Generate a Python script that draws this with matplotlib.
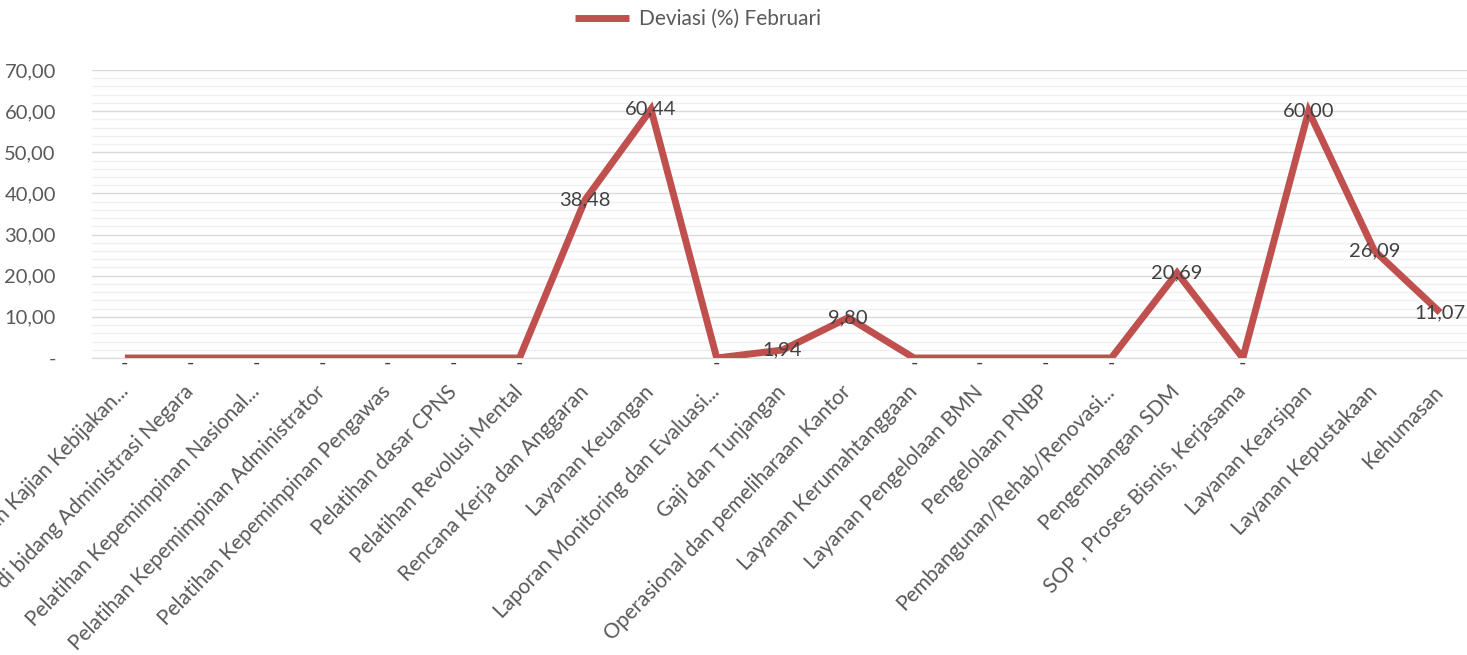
import numpy as np
import matplotlib
matplotlib.use("Agg")
import matplotlib.pyplot as plt
from matplotlib.ticker import MultipleLocator, FuncFormatter

plt.rcParams['font.family'] = ['Lato', 'DejaVu Sans']

kategori = [
    "Penelitian dan Kajian Kebijakan...",
    "Pelatihan di bidang Administrasi Negara",
    "Pelatihan Kepemimpinan Nasional...",
    "Pelatihan Kepemimpinan Administrator",
    "Pelatihan Kepemimpinan Pengawas",
    "Pelatihan dasar CPNS",
    "Pelatihan Revolusi Mental",
    "Rencana Kerja dan Anggaran",
    "Layanan Keuangan",
    "Laporan Monitoring dan Evaluasi...",
    "Gaji dan Tunjangan",
    "Operasional dan pemeliharaan Kantor",
    "Layanan Kerumahtanggaan",
    "Layanan Pengelolaan BMN",
    "Pengelolaan PNBP",
    "Pembangunan/Rehab/Renovasi...",
    "Pengembangan SDM",
    "SOP , Proses Bisnis, Kerjasama",
    "Layanan Kearsipan",
    "Layanan Kepustakaan",
    "Kehumasan",
]
deviasi_februari = [0, 0, 0, 0, 0, 0, 0, 38.48, 60.44, 0, 1.94, 9.80,
                    0, 0, 0, 0, 20.69, 0, 60.00, 26.09, 11.07]

warna_garis = "#C0504D"
warna_teks = "#595959"


def format_angka(v):
    # format akuntansi: nol jadi "-"
    if v == 0:
        return "-"
    return f"{v:.2f}".replace(".", ",")


fig = plt.figure(figsize=(14.67, 6.55), dpi=100)
ax = fig.add_axes([92 / 1467, 297 / 655, 1381 / 1467, 288 / 655])

x = np.arange(len(kategori))
garis, = ax.plot(x, deviasi_februari, color=warna_garis, lw=5,
                 solid_joinstyle="miter", solid_capstyle="butt",
                 label="Deviasi (%) Februari", zorder=3)

# label data di tengah titik
for xi, v in zip(x, deviasi_februari):
    if v == 0:
        ax.text(xi, -1.2, "-", ha="center", va="center", fontsize=14,
                color="#404040", zorder=4)
    else:
        ax.text(xi, v, format_angka(v), ha="center", va="center",
                fontsize=14.5, color="#404040", zorder=4)

ax.set_xlim(-0.5, len(kategori) - 0.5)
ax.set_ylim(0, 70)
ax.yaxis.set_major_locator(MultipleLocator(10))
ax.yaxis.set_minor_locator(MultipleLocator(2))
ax.yaxis.set_major_formatter(FuncFormatter(lambda v, p: format_angka(v)))
ax.grid(axis="y", which="major", color="#D9D9D9", lw=1.0, zorder=0)
ax.grid(axis="y", which="minor", color="#EFEFEF", lw=0.9, zorder=0)
ax.set_axisbelow(True)

for s in ["top", "right", "left"]:
    ax.spines[s].set_visible(False)
ax.spines["bottom"].set_color("#D9D9D9")

ax.set_xticks(x)
ax.set_xticklabels(kategori, rotation=46, ha="right", va="center",
                   rotation_mode="anchor", fontsize=15, color=warna_teks)
ax.tick_params(axis="x", length=0, pad=22)
ax.tick_params(axis="y", which="both", length=0, pad=26, labelsize=14.5,
               labelcolor=warna_teks)

fig.legend(handles=[garis], loc="center", bbox_to_anchor=(698 / 1467, 1 - 19 / 655),
           frameon=False, fontsize=15, labelcolor=warna_teks,
           handlelength=2.6, handletextpad=0.5)

fig.savefig("out.png", dpi=100)
